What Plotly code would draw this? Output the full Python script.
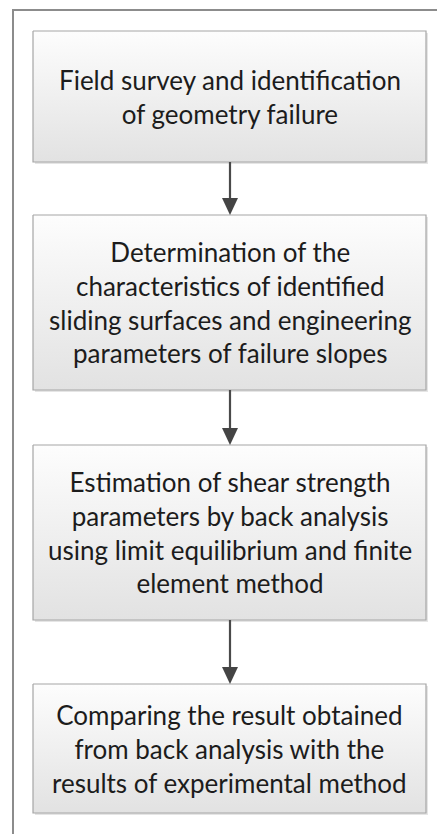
import plotly.graph_objects as go

W, H = 437, 834

steps = [
    "Field survey and identification<br>of geometry failure",
    "Determination of the<br>characteristics of identified<br>sliding surfaces and engineering<br>parameters of failure slopes",
    "Estimation of shear strength<br>parameters by back analysis<br>using limit equilibrium and finite<br>element method",
    "Comparing the result obtained<br>from back analysis with the<br>results of experimental method",
]
# top / bottom of each box in pixels (y grows downward)
box_top = [31, 215, 445, 684]
box_bot = [162, 390, 620, 813]

x0, x1 = 33, 426
xc = 230

fig = go.Figure()

for i, txt in enumerate(steps):
    t, b = box_top[i], box_bot[i]
    # soft shadow
    fig.add_shape(type="rect", x0=x0 + 2, x1=x1 + 2, y0=t + 2, y1=b + 2,
                  line=dict(width=0), fillcolor="rgba(0,0,0,0.10)", layer="below")
    fig.add_trace(go.Scatter(
        x=[x0, x1, x1, x0, x0], y=[t, t, b, b, t],
        mode="lines", fill="toself",
        fillgradient=dict(type="vertical", colorscale=[[0, "#e2e2e2"], [1, "#fdfdfd"]]),
        line=dict(color="#a6a6a6", width=1.2),
        hoverinfo="skip", showlegend=False,
    ))
    fig.add_annotation(x=(x0 + x1) / 2, y=(t + b) / 2, text=txt, showarrow=False,
                       font=dict(family="Lato", size=26, color="#1c1c1c"),
                       align="center", xanchor="center", yanchor="middle")

# connecting arrows
for i in range(len(steps) - 1):
    y_start = box_bot[i]
    y_end = box_top[i + 1]
    fig.add_shape(type="line", x0=xc, x1=xc, y0=y_start, y1=y_end - 14,
                  line=dict(color="#4a4a4a", width=2.2))
    fig.add_shape(type="path",
                  path=f"M {xc - 8} {y_end - 17} L {xc + 8} {y_end - 17} L {xc} {y_end} Z",
                  fillcolor="#444444", line=dict(width=0))

# outer frame (left and top edges)
fig.add_shape(type="path", path=f"M 13 {H + 5} L 13 10 L {W + 5} 10",
              line=dict(color="#8c8c8c", width=2))

fig.update_xaxes(range=[0, W], visible=False, fixedrange=True)
fig.update_yaxes(range=[H, 0], visible=False, fixedrange=True)
fig.update_layout(width=W, height=H, margin=dict(l=0, r=0, t=0, b=0),
                  plot_bgcolor="white", paper_bgcolor="white")

fig.write_html("out.html", config={"displayModeBar": False},
               post_script="document.body.style.margin='0';")
